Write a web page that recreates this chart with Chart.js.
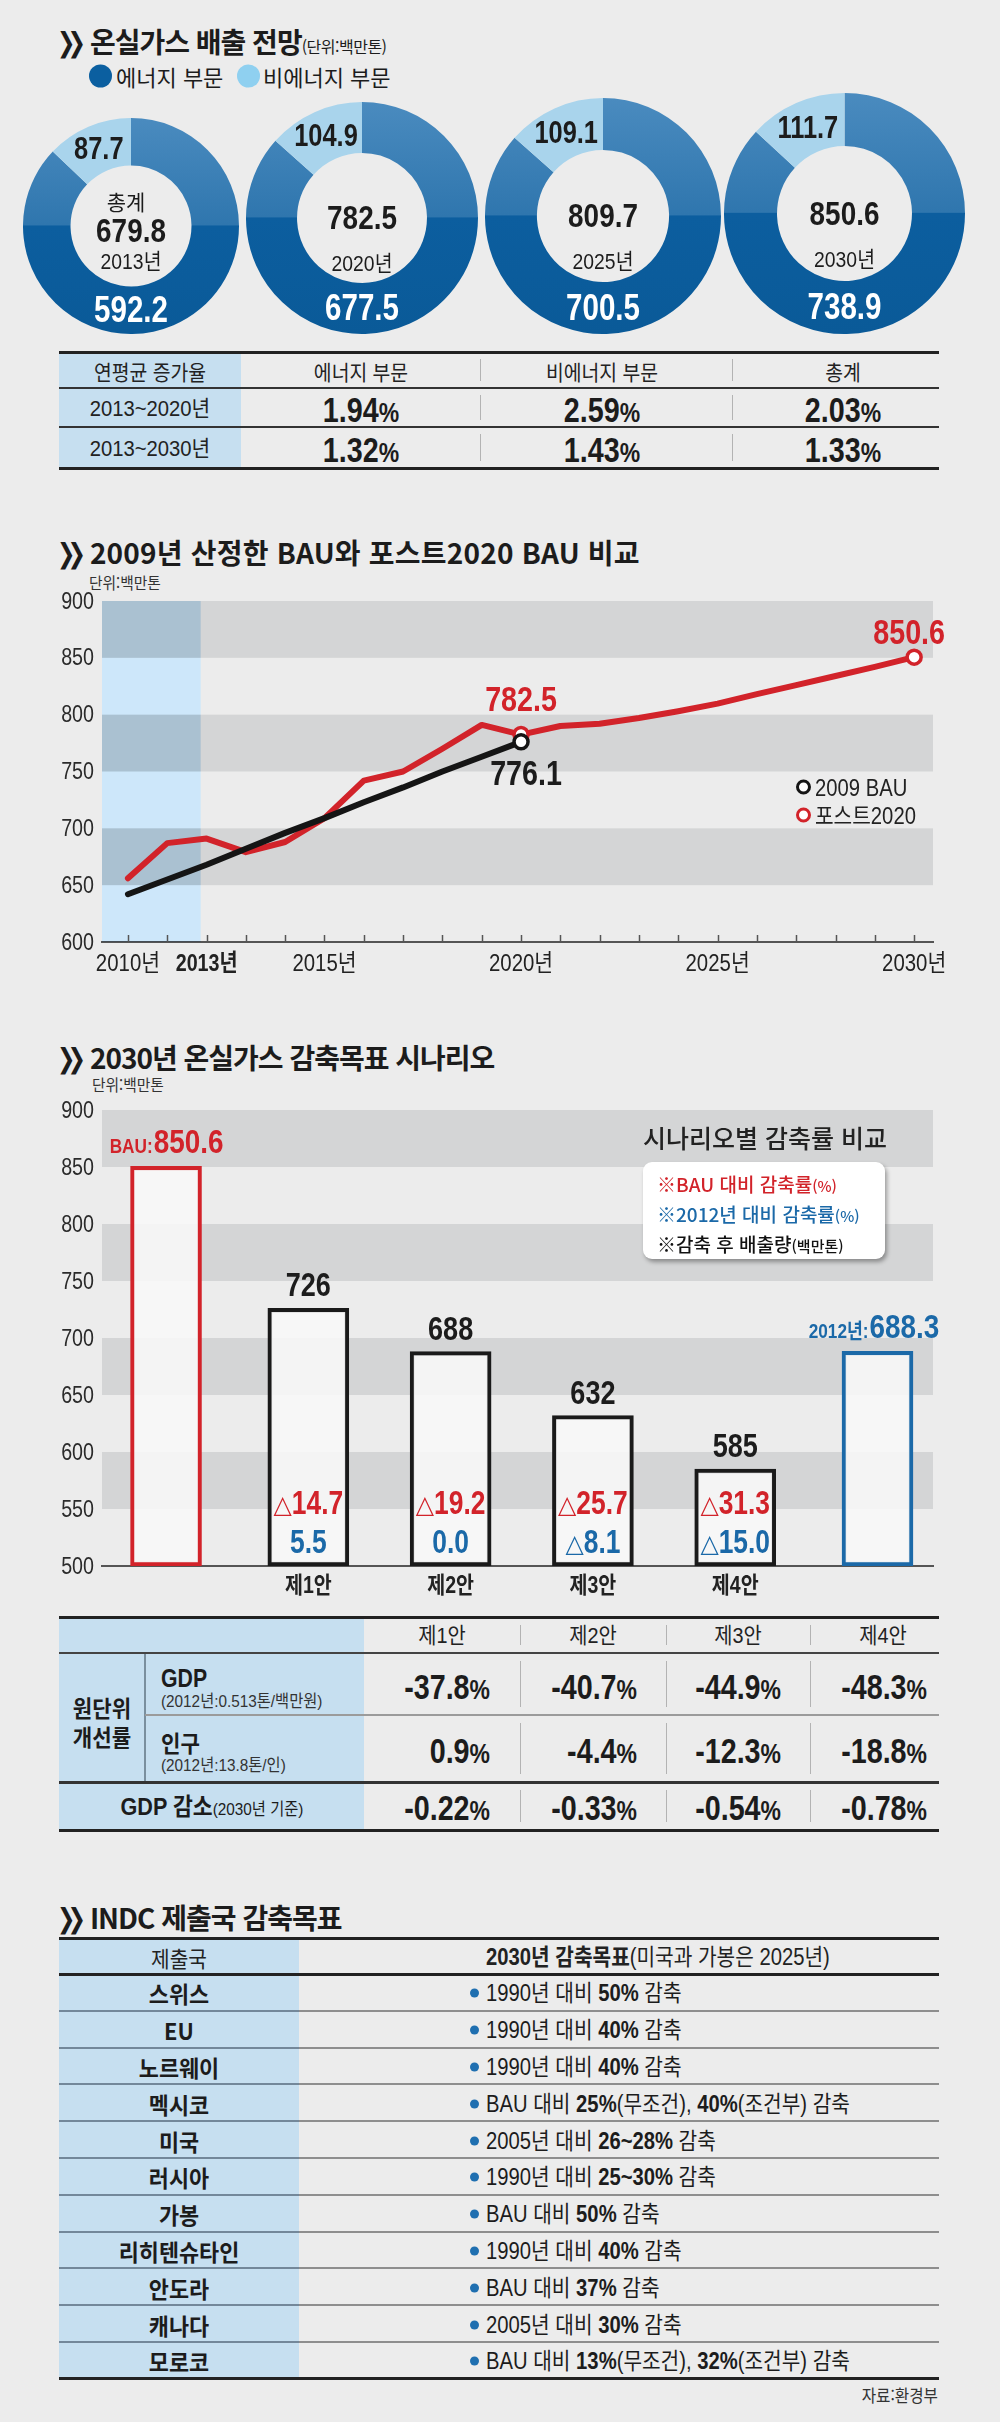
<!DOCTYPE html>
<html lang="ko">
<head>
<meta charset="utf-8">
<title>온실가스 배출 전망</title>
<script src="https://cdn.jsdelivr.net/npm/chart.js@4.4.1/dist/chart.umd.min.js"></script>
<style>
  html, body { margin: 0; padding: 0; background: #ececec; }
  #page { position: relative; width: 1000px; height: 2422px; overflow: hidden; background: #ececec;
    font-family: "Noto Sans CJK KR", sans-serif; color: #1c1c1c; }
  .title { position: absolute; left: 57px; line-height: 1; font-size: 28px; font-weight: 700;
    letter-spacing: -1px; white-space: nowrap; transform: translateY(-50%); }
  .chev { display: inline-block; font-family: "DejaVu Sans", sans-serif; font-size: 22px; letter-spacing: -8px;
    margin-right: 12px; transform: scaleY(1.25) translateY(-2px); }
  .unit { font-size: 16px; font-weight: 400; letter-spacing: -0.5px; }
</style>
</head>
<body>
<div id="page">
  <div class="title" style="top:42px"><span class="chev">❯❯</span>온실가스 배출 전망<span class="unit">(단위:백만톤)</span></div>
  <div class="title" style="top:553px;letter-spacing:0.2px"><span class="chev">❯❯</span>2009년 산정한 BAU와 포스트2020 BAU 비교</div>
  <div class="title" style="top:1058px"><span class="chev">❯❯</span>2030년 온실가스 감축목표 시나리오</div>
  <div class="title" style="top:1918px"><span class="chev">❯❯</span>INDC 제출국 감축목표</div>
</div>
<script>
const donutYears = ['2013년', '2020년', '2025년', '2030년'];
const energySector = [592.2, 677.5, 700.5, 738.9];
const nonEnergySector = [87.7, 104.9, 109.1, 111.7];
const totalEmission = [679.8, 782.5, 809.7, 850.6];

const growthPeriods = ['2013~2020년', '2013~2030년'];
const growthEnergy = [1.94, 1.32];
const growthNonEnergy = [2.59, 1.43];
const growthTotal = [2.03, 1.33];

const lineYears = [2010, 2011, 2012, 2013, 2014, 2015, 2016, 2017, 2018, 2019, 2020,
  2021, 2022, 2023, 2024, 2025, 2026, 2027, 2028, 2029, 2030];
const bau2009 = [642, 655, 668, 682, 696, 709, 723, 736, 750, 763, 776.1];
const post2020 = [656, 687, 691, 679, 688, 709, 742, 750, 770, 791, 782.5,
  790, 792, 797, 803, 809.7, 818, 826, 834, 842, 850.6];
const lineTicks = [600, 650, 700, 750, 800, 850, 900];
const lineYearLabels = [2010, 2015, 2020, 2025, 2030];

const scenarioNames = ['BAU', '제1안', '제2안', '제3안', '제4안', '2012년'];
const scenarioValues = [850.6, 726, 688, 632, 585, 688.3];
const cutVsBau = [null, -14.7, -19.2, -25.7, -31.3, null];
const cutVs2012 = [null, 5.5, 0.0, -8.1, -15.0, null];
const barTicks = [500, 550, 600, 650, 700, 750, 800, 850, 900];

const planNames = ['제1안', '제2안', '제3안', '제4안'];
const gdpIntensity = [-37.8, -40.7, -44.9, -48.3];
const popIntensity = [0.9, -4.4, -12.3, -18.8];
const gdpLoss = [-0.22, -0.33, -0.54, -0.78];

const indcCountries = ['스위스', 'EU', '노르웨이', '멕시코', '미국', '러시아', '가봉', '리히텐슈타인', '안도라', '캐나다', '모로코'];
const indcGoals = [
  '1990년 대비 50% 감축',
  '1990년 대비 40% 감축',
  '1990년 대비 40% 감축',
  'BAU 대비 25%(무조건), 40%(조건부) 감축',
  '2005년 대비 26~28% 감축',
  '1990년 대비 25~30% 감축',
  'BAU 대비 50% 감축',
  '1990년 대비 40% 감축',
  'BAU 대비 37% 감축',
  '2005년 대비 30% 감축',
  'BAU 대비 13%(무조건), 32%(조건부) 감축'
];

// ---- look ----
// no condensed face is installed, so numbers are drawn in Liberation Sans squeezed horizontally
const NUM = '"Liberation Sans", "Noto Sans CJK KR", sans-serif';
const KR = '"Noto Sans CJK KR", sans-serif';
const SQ = 0.82;
const RED = '#d2232a', BLUE = '#1b69a8', INK = '#1c1c1c', CELL = '#c6dff0', BAND = '#d4d5d6';
Chart.defaults.font.family = NUM;
Chart.defaults.color = '#2b2b2b';

const page = document.getElementById('page');

function put(x, y, w, h, css, html) {
  const d = document.createElement('div');
  d.style.cssText = `position:absolute;left:${x}px;top:${y}px;width:${w}px;height:${h}px;` + (css || '');
  if (html != null) d.innerHTML = html;
  page.appendChild(d);
  return d;
}
// text anchored at (x, y): align l / c / r, optional horizontal squeeze
function txt(x, y, html, css, align, sx) {
  const tx = align === 'l' ? '0' : align === 'r' ? '-100%' : '-50%';
  const origin = align === 'l' ? 'left' : align === 'r' ? 'right' : 'center';
  const d = document.createElement('div');
  d.style.cssText = `position:absolute;left:${x}px;top:${y}px;transform:translate(${tx},-50%) scaleX(${sx || 1});` +
    `transform-origin:${origin} center;white-space:nowrap;line-height:1;` + (css || '');
  d.innerHTML = html;
  page.appendChild(d);
  return d;
}
function ntxt(x, y, html, css, align, sx) {
  return txt(x, y, html, `font-family:${NUM};` + (css || ''), align, sx || SQ);
}
function hline(x1, x2, y, t, color) { return put(x1, y - t / 2, x2 - x1, t, 'background:' + color); }
function vline(x, y1, y2, t, color) { return put(x - t / 2, y1, t, y2 - y1, 'background:' + color); }
function makeCanvas(x, y, w, h) {
  const c = document.createElement('canvas');
  c.width = w; c.height = h;
  c.style.cssText = `position:absolute;left:${x}px;top:${y}px;width:${w}px;height:${h}px`;
  page.appendChild(c);
  return c;
}
function pct(v, digits, size) {
  return `${v.toFixed(digits)}<span style="font-size:${size}px">%</span>`;
}
// squeezed canvas text
function sqText(ctx, str, x, y, font, color, align, baseline, sx) {
  ctx.save();
  ctx.font = font;
  ctx.fillStyle = color;
  ctx.textAlign = align || 'center';
  ctx.textBaseline = baseline || 'middle';
  ctx.translate(x, y);
  ctx.scale(sx || SQ, 1);
  ctx.fillText(str, 0, 0);
  ctx.restore();
}
function sqWidth(ctx, str, font, sx) {
  ctx.font = font;
  return ctx.measureText(str).width * (sx || SQ);
}
// alternating grey bands between every other tick
function drawBands(chart, ticks) {
  const { ctx, chartArea: a, scales: { y } } = chart;
  ctx.fillStyle = BAND;
  for (let i = 1; i < ticks.length - 1; i += 2) {
    const top = y.getPixelForValue(ticks[i + 1]);
    ctx.fillRect(a.left, top, a.right - a.left, y.getPixelForValue(ticks[i]) - top);
  }
}
// tick labels of both axes, drawn squeezed at the positions the scales give
const sqTicks = {
  id: 'sqTicks',
  afterDraw(chart, args, o) {
    const { ctx, chartArea: a, scales: { x, y } } = chart;
    y.ticks.forEach(t => sqText(ctx, String(t.value), a.left - 8, y.getPixelForValue(t.value) + 1, `24px ${NUM}`, '#2b2b2b', 'right'));
    x.ticks.forEach(t => sqText(ctx, o.xLabel(t.value), x.getPixelForValue(t.value), a.bottom + o.xGap, o.xFont, '#222', 'center', 'middle', o.xSq));
  }
};

// ================= 1. donuts =================
txt(89, 76, '', 'width:23px;height:23px;border-radius:50%;background:#0b5fa0', 'l');
txt(116, 76, '에너지 부문', 'font-size:22px', 'l');
txt(237, 76, '', 'width:23px;height:23px;border-radius:50%;background:#8fd0f0', 'l');
txt(263, 76, '비에너지 부문', 'font-size:22px', 'l');

const DONUT_CX = [131, 362, 603, 844];
const DONUT_BOTTOM = 334;
const DONUT_K = 4.13; // ring radius grows with sqrt of total

const donutText = {
  id: 'donutText',
  afterDraw(chart, args, opts) {
    const i = opts.index;
    const { ctx } = chart;
    const arcs = chart.getDatasetMeta(0).data;
    const ring = arcs[0];
    const cx = ring.x, cy = ring.y;
    const p = arcs[1].tooltipPosition();
    sqText(ctx, nonEnergySector[i].toFixed(1), p.x + 1, p.y + 2, `bold 31px ${NUM}`, INK);
    sqText(ctx, energySector[i].toFixed(1), cx, cy + (ring.innerRadius + ring.outerRadius) / 2 + 2, `bold 36px ${NUM}`, '#fff');
    if (i === 0) {
      sqText(ctx, '총계', cx - 5, cy - 24, `21px ${KR}`, INK, 'center', 'middle', 1);
      sqText(ctx, totalEmission[i].toFixed(1), cx, cy + 7, `bold 34px ${NUM}`, INK);
      sqText(ctx, donutYears[i], cx, cy + 37, `22px ${NUM}`, INK, 'center', 'middle', 0.88);
    } else {
      sqText(ctx, totalEmission[i].toFixed(1), cx, cy + 2, `bold 34px ${NUM}`, INK);
      sqText(ctx, donutYears[i], cx, cy + 47, `22px ${NUM}`, INK, 'center', 'middle', 0.88);
    }
  }
};

function ringFill(c) {
  const { chart } = c;
  const a = chart.chartArea;
  if (!a) return '#0b5fa0';
  const g = chart.ctx.createLinearGradient(0, a.top, 0, a.bottom);
  g.addColorStop(0, '#4a8bbf');
  g.addColorStop(0.495, '#2f76ae');
  g.addColorStop(0.5, '#0c5e9f');
  g.addColorStop(1, '#0a5a98');
  return g;
}

donutYears.forEach((year, i) => {
  const r = DONUT_K * Math.sqrt(totalEmission[i]);
  const size = Math.ceil(2 * r);
  const cv = makeCanvas(Math.round(DONUT_CX[i] - size / 2), DONUT_BOTTOM - size, size, size);
  new Chart(cv, {
    type: 'doughnut',
    data: {
      labels: ['에너지 부문', '비에너지 부문'],
      datasets: [{
        data: [energySector[i], nonEnergySector[i]],
        backgroundColor: c => (c.dataIndex === 0 ? ringFill(c) : '#a9d4ec'),
        borderWidth: 0
      }]
    },
    options: {
      responsive: false,
      animation: false,
      events: [],
      cutout: '56%',
      layout: { padding: 0 },
      plugins: { legend: { display: false }, tooltip: { enabled: false }, donutText: { index: i } }
    },
    plugins: [donutText]
  });
});

// ================= table: 연평균 증가율 =================
(function () {
  const L = 59, R = 939;
  const cols = [241, 480, 732];
  const rows = [352, 388, 427, 468];
  put(L, rows[0], cols[0] - L, rows[3] - rows[0], 'background:' + CELL);
  const centers = [(L + cols[0]) / 2, (cols[0] + cols[1]) / 2, (cols[1] + cols[2]) / 2 - 4, (cols[2] + R) / 2 + 7];
  ['연평균 증가율', '에너지 부문', '비에너지 부문', '총계'].forEach((h, k) => {
    txt(centers[k], (rows[0] + rows[1]) / 2 + 1, h, 'font-size:21px;color:#222', 'c', 0.92);
  });
  growthPeriods.forEach((p, r) => {
    const mid = (rows[r + 1] + rows[r + 2]) / 2 + 1;
    ntxt(centers[0], mid, p, 'font-size:22px;color:#222', 'c', 0.92);
    [growthEnergy[r], growthNonEnergy[r], growthTotal[r]].forEach((v, k) => {
      ntxt(centers[k + 1], mid, pct(v, 2, 28), 'font-size:35px;font-weight:700', 'c');
    });
  });
  for (let r = 0; r < 3; r++) {
    [cols[1], cols[2]].forEach(x => vline(x, rows[r] + 7, rows[r + 1] - 7, 1, '#b3b3b3'));
  }
  hline(L, R, rows[0], 3, '#222');
  hline(L, R, rows[1], 2, '#333');
  hline(L, R, rows[2], 2, '#333');
  hline(L, R, rows[3], 3, '#222');
})();

// ================= 2. line chart =================
txt(89, 582, '단위:백만톤', 'font-size:16px;color:#333', 'l', 0.92);
const actualShadeTo = 2011.85;

const lineDecor = {
  id: 'lineDecor',
  beforeDatasetsDraw(chart) {
    const { ctx, chartArea: a, scales: { x } } = chart;
    ctx.save();
    drawBands(chart, lineTicks);
    ctx.globalCompositeOperation = 'multiply';
    ctx.fillStyle = '#cde7fa';
    ctx.fillRect(a.left, a.top, x.getPixelForValue(actualShadeTo) - a.left, a.bottom - a.top);
    ctx.globalCompositeOperation = 'source-over';
    ctx.strokeStyle = '#555';
    ctx.lineWidth = 1.5;
    lineYears.forEach(yr => {
      const px = Math.round(x.getPixelForValue(yr)) + 0.5;
      ctx.beginPath();
      ctx.moveTo(px, a.bottom - 7);
      ctx.lineTo(px, a.bottom);
      ctx.stroke();
    });
    ctx.restore();
  },
  afterDraw(chart) {
    const { ctx, chartArea: a, scales: { x, y } } = chart;
    const big = `bold 35px ${NUM}`;
    const i20 = lineYears.indexOf(2020);
    sqText(ctx, post2020[i20].toFixed(1), x.getPixelForValue(2020), y.getPixelForValue(post2020[i20]) - 33, big, RED);
    const last = post2020.length - 1;
    sqText(ctx, post2020[last].toFixed(1), x.getPixelForValue(lineYears[last]) - 5, y.getPixelForValue(post2020[last]) - 23, big, RED);
    const b = bau2009.length - 1;
    sqText(ctx, bau2009[b].toFixed(1), x.getPixelForValue(lineYears[b]) + 5, y.getPixelForValue(bau2009[b]) + 34, big, INK);
    sqText(ctx, '2013년', x.getPixelForValue(actualShadeTo) + 6, a.bottom + 22, `bold 24px ${NUM}`, '#222');
  }
};

const lineCanvas = makeCanvas(0, 585, 1000, 405);
new Chart(lineCanvas, {
  type: 'line',
  data: {
    datasets: [
      {
        label: '2009 BAU',
        data: bau2009.map((v, i) => ({ x: lineYears[i], y: v })),
        borderColor: '#151515',
        borderWidth: 6,
        pointRadius: c => (c.dataIndex === bau2009.length - 1 ? 7 : 0),
        pointBorderColor: '#151515',
        pointBackgroundColor: '#fff',
        pointBorderWidth: 3.5
      },
      {
        label: '포스트2020',
        data: post2020.map((v, i) => ({ x: lineYears[i], y: v })),
        borderColor: RED,
        borderWidth: 6,
        pointRadius: c => (lineYears[c.dataIndex] === 2020 || c.dataIndex === post2020.length - 1 ? 7 : 0),
        pointBorderColor: RED,
        pointBackgroundColor: '#fff',
        pointBorderWidth: 3.5
      }
    ]
  },
  options: {
    responsive: false,
    animation: false,
    events: [],
    layout: { padding: { top: 16, right: 67, left: 0, bottom: 0 } },
    elements: { line: { tension: 0, borderCapStyle: 'round', borderJoinStyle: 'round' } },
    plugins: {
      legend: { display: false }, tooltip: { enabled: false },
      sqTicks: { xLabel: v => v + '년', xGap: 22, xFont: `24px ${NUM}`, xSq: 0.85 }
    },
    scales: {
      x: {
        type: 'linear', min: 2009.34, max: 2030.48,
        afterBuildTicks: s => { s.ticks = lineYearLabels.map(v => ({ value: v })); },
        afterFit: s => { s.height = 48; },
        ticks: { display: false },
        grid: { display: false, drawTicks: false },
        border: { display: true, color: '#555', width: 2 }
      },
      y: {
        min: 600, max: 900,
        afterBuildTicks: s => { s.ticks = lineTicks.map(v => ({ value: v })); },
        afterFit: s => { s.width = 102; },
        ticks: { display: false },
        grid: { display: false, drawTicks: false },
        border: { display: false }
      }
    }
  },
  plugins: [lineDecor, sqTicks]
});

// legend of the line chart
txt(796, 787, '', 'width:15px;height:15px;border-radius:50%;border:3.5px solid #151515;background:#fff;box-sizing:border-box', 'l');
ntxt(815, 788, '2009 BAU', 'font-size:23px;color:#222', 'l', 0.88);
txt(796, 815, '', 'width:15px;height:15px;border-radius:50%;border:3.5px solid ' + RED + ';background:#fff;box-sizing:border-box', 'l');
ntxt(815, 816, '포스트2020', 'font-size:23px;color:#222', 'l', 0.88);

// ================= 3. bar chart =================
txt(92, 1084, '단위:백만톤', 'font-size:16px;color:#333', 'l', 0.92);

const planIdx = scenarioNames.map((_, i) => i).filter(i => cutVsBau[i] !== null);
const sideIdx = scenarioNames.map((_, i) => i).filter(i => cutVsBau[i] === null);

function drawPair(ctx, cx, baseline, small, big, color) {
  const f1 = `bold 21px ${NUM}`, f2 = `bold 34px ${NUM}`;
  const w1 = sqWidth(ctx, small, f1);
  const w2 = sqWidth(ctx, big, f2);
  const left = cx - (w1 + w2) / 2;
  sqText(ctx, small, left, baseline, f1, color, 'left', 'alphabetic');
  sqText(ctx, big, left + w1 + 1, baseline, f2, color, 'left', 'alphabetic');
}
// reduction rate: a thin triangle marks a decrease
function drawCut(ctx, v, cx, baseline, color) {
  const fNum = `bold 33px ${NUM}`, fTri = `25px "DejaVu Sans", sans-serif`;
  const num = Math.abs(v).toFixed(1);
  const wNum = sqWidth(ctx, num, fNum, 0.8);
  if (v >= 0) {
    sqText(ctx, num, cx, baseline, fNum, color, 'center', 'alphabetic', 0.8);
    return;
  }
  const wTri = sqWidth(ctx, '△', fTri, 0.95);
  const left = cx - (wTri + wNum) / 2;
  sqText(ctx, '△', left, baseline - 1, fTri, color, 'left', 'alphabetic', 0.95);
  sqText(ctx, num, left + wTri, baseline, fNum, color, 'left', 'alphabetic', 0.8);
}

const barDecor = {
  id: 'barDecor',
  beforeDatasetsDraw(chart) {
    chart.ctx.save();
    drawBands(chart, barTicks);
    chart.ctx.restore();
  },
  afterDatasetsDraw(chart) {
    const { ctx, chartArea: a, scales: { x, y } } = chart;
    scenarioValues.forEach((v, i) => {
      const px = x.getPixelForValue(i), top = y.getPixelForValue(v);
      if (cutVsBau[i] === null) {
        drawPair(ctx, px + (i === 0 ? 0 : -4), top - 13, scenarioNames[i] + ':', v.toFixed(1), i === 0 ? RED : BLUE);
      } else {
        sqText(ctx, String(v), px, top - 12, `bold 33px ${NUM}`, INK, 'center', 'alphabetic');
        drawCut(ctx, cutVsBau[i], px, a.bottom - 52, RED);
        drawCut(ctx, cutVs2012[i], px, a.bottom - 13, BLUE);
      }
    });
  }
};

const barCanvas = makeCanvas(0, 1095, 1000, 510);
new Chart(barCanvas, {
  type: 'bar',
  data: {
    datasets: [
      {
        label: '기준',
        data: sideIdx.map(i => ({ x: i, y: scenarioValues[i] })),
        borderColor: sideIdx.map(i => (i === 0 ? RED : BLUE)),
        backgroundColor: 'rgba(248,248,248,0.88)',
        borderWidth: 4,
        borderSkipped: false,
        barThickness: 71,
        base: 500,
        grouped: false
      },
      {
        label: '시나리오',
        data: planIdx.map(i => ({ x: i, y: scenarioValues[i] })),
        borderColor: '#1a1a1a',
        backgroundColor: 'rgba(248,248,248,0.88)',
        borderWidth: 4,
        borderSkipped: false,
        barThickness: 81,
        base: 500,
        grouped: false
      }
    ]
  },
  options: {
    responsive: false,
    animation: false,
    events: [],
    layout: { padding: { top: 15, right: 67, left: 0, bottom: 0 } },
    plugins: {
      legend: { display: false }, tooltip: { enabled: false },
      sqTicks: { xLabel: v => scenarioNames[v], xGap: 21, xFont: `bold 23px ${NUM}`, xSq: 0.85 }
    },
    scales: {
      x: {
        type: 'linear', min: -0.45, max: 5.39, offset: false,
        afterBuildTicks: s => { s.ticks = planIdx.map(v => ({ value: v })); },
        afterFit: s => { s.height = 39; },
        ticks: { display: false },
        grid: { display: false, drawTicks: false },
        border: { display: true, color: '#555', width: 2 }
      },
      y: {
        min: 500, max: 900,
        afterBuildTicks: s => { s.ticks = barTicks.map(v => ({ value: v })); },
        afterFit: s => { s.width = 102; },
        ticks: { display: false },
        grid: { display: false, drawTicks: false },
        border: { display: false }
      }
    }
  },
  plugins: [barDecor, sqTicks]
});

txt(643, 1137, '시나리오별 감축률 비교', 'font-size:25px;font-weight:500;color:#222;z-index:2', 'l');
put(643, 1162, 242, 97, 'background:#fff;border-radius:9px;box-shadow:2px 3px 4px rgba(0,0,0,0.35);z-index:2');
txt(657, 1183, '<span style="color:' + RED + '">※BAU 대비 감축률<span style="font-size:15px">(%)</span></span>', 'font-size:19px;font-weight:500;z-index:3', 'l');
txt(657, 1213, '<span style="color:' + BLUE + '">※2012년 대비 감축률<span style="font-size:15px">(%)</span></span>', 'font-size:19px;font-weight:500;z-index:3', 'l');
txt(657, 1243, '※감축 후 배출량<span style="font-size:15px">(백만톤)</span>', 'font-size:19px;font-weight:500;z-index:3;color:#111', 'l');

// ================= table: 원단위 개선률 =================
(function () {
  const L = 59, R = 939, c0 = 145, c1 = 364;
  const rows = [1617, 1653, 1715, 1782, 1830];
  put(L, rows[0], c1 - L, rows[4] - rows[0], 'background:' + CELL);
  const heads = [442, 593, 738, 883];
  const rights = [490, 637, 781, 927];
  planNames.forEach((p, k) => ntxt(heads[k], (rows[0] + rows[1]) / 2 + 1, p, 'font-size:22px;color:#222', 'c', 0.9));
  txt(102, 1707, '원단위', 'font-size:23px;font-weight:700', 'c', 0.92);
  txt(102, 1736, '개선률', 'font-size:23px;font-weight:700', 'c', 0.92);
  ntxt(161, 1678, 'GDP', 'font-size:25px;font-weight:700', 'l', 0.85);
  ntxt(161, 1701, '(2012년:0.513톤/백만원)', 'font-size:17px;color:#333', 'l', 0.9);
  txt(161, 1742, '인구', 'font-size:23px;font-weight:700', 'l', 0.92);
  ntxt(161, 1765, '(2012년:13.8톤/인)', 'font-size:17px;color:#333', 'l', 0.9);
  ntxt((L + c1) / 2, 1807, '<b>GDP 감소</b><span style="font-size:17px">(2030년 기준)</span>', 'font-size:24px', 'c', 0.9);
  [[gdpIntensity, 1, 1686], [popIntensity, 1, 1750], [gdpLoss, 2, 1807]].forEach(([arr, d, mid]) => {
    arr.forEach((v, k) => ntxt(rights[k], mid, pct(v, d, 28), 'font-size:35px;font-weight:700', 'r'));
  });
  for (let r = 0; r < 4; r++) {
    [520, 666, 810].forEach(x => vline(x, rows[r] + 8, rows[r + 1] - 8, 1, '#b3b3b3'));
  }
  vline(c0, rows[1], rows[3], 2, '#7a8f9e');
  hline(c0, R, rows[2], 2, '#9b9b9b');
  hline(L, R, rows[0], 3, '#222');
  hline(L, R, rows[1], 2, '#444');
  hline(L, R, rows[3], 3, '#333');
  hline(L, R, rows[4], 3, '#222');
})();

// ================= table: INDC =================
(function () {
  const L = 59, R = 939, split = 299, top = 1938, head = 1974, rowH = 36.8;
  const bottom = head + rowH * indcCountries.length;
  put(L, top, split - L, bottom - top, 'background:' + CELL);
  txt((L + split) / 2, (top + head) / 2 + 1, '제출국', 'font-size:22px;color:#222', 'c', 0.92);
  ntxt(486, (top + head) / 2 + 1, '<b>2030년 감축목표</b>(미국과 가봉은 2025년)', 'font-size:23px;color:#222', 'l', 0.88);
  indcCountries.forEach((c, k) => {
    const mid = head + rowH * k + rowH / 2 + 1;
    txt((L + split) / 2, mid, c, 'font-size:23px;font-weight:700', 'c', 0.95);
    txt(470, mid, '', 'width:9px;height:9px;border-radius:50%;background:#1f6fb0', 'l');
    const html = indcGoals[k].replace(/(\d+(?:~\d+)?%)/g, '<b>$1</b>');
    ntxt(486, mid, html, 'font-size:23px;color:#1c1c1c', 'l', 0.88);
    if (k > 0) {
      hline(L, split, head + rowH * k, 2, '#73889a');
      hline(split, R, head + rowH * k, 2, '#8e8e8e');
    }
  });
  hline(L, R, top, 3, '#222');
  hline(L, R, head, 3, '#222');
  hline(L, R, bottom, 3, '#222');
  txt(938, 2394, '자료:환경부', 'font-size:17px;color:#333', 'r', 0.92);
})();
</script>
</body>
</html>
